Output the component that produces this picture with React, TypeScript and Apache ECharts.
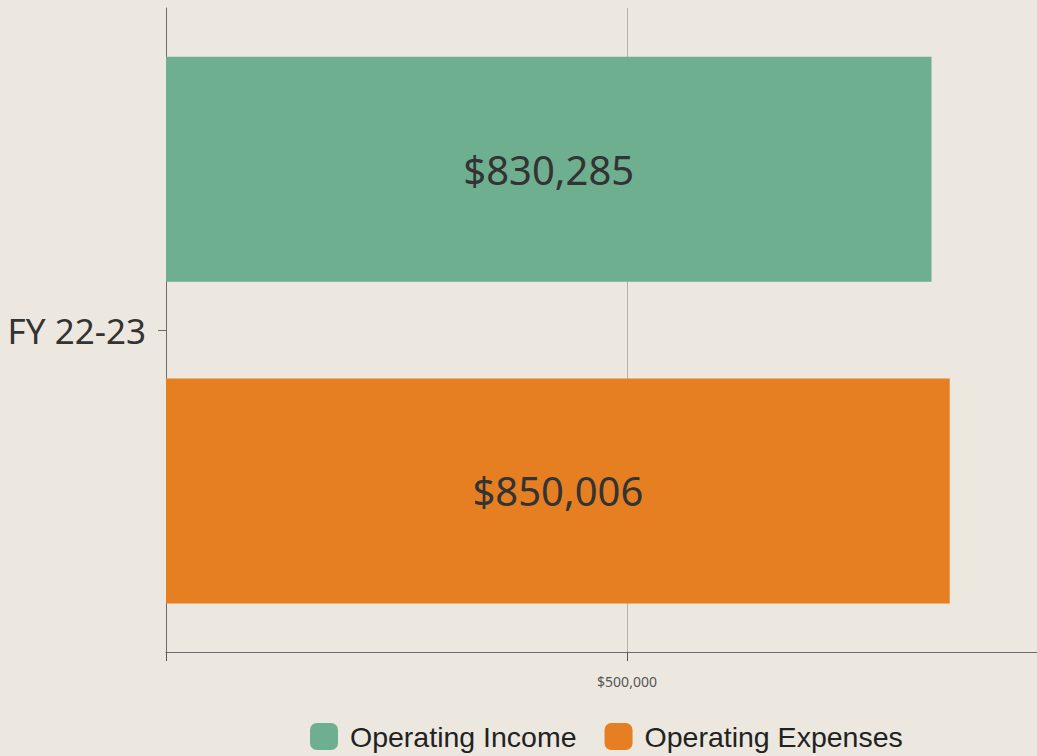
import React, { useEffect, useRef } from "react";
import * as echarts from "echarts";

const categories = ["FY 22-23"];
const seriesNames = ["Operating Income", "Operating Expenses"];
const incomeValues = [830285];
const expenseValues = [850006];
const tickValues = [500000];
const axisMax = 944685;

const fmt = (v: number) => "$" + Math.round(v).toLocaleString("en-US");

export default function App() {
  const ref = useRef<HTMLDivElement>(null);
  useEffect(() => {
    if (!ref.current) return;
    const chart = echarts.init(ref.current, undefined, { renderer: "svg" });
    const label = {
      show: true,
      position: "inside",
      color: "#333333",
      fontSize: 40,
      fontFamily: "Noto Sans",
      formatter: (p: any) => fmt(p.value),
    };
    chart.setOption({
      animation: false,
      backgroundColor: "#ECE8DF",
      grid: { left: 166, right: 0, top: 8, bottom: 104, containLabel: false },
      legend: {
        top: 717,
        left: 305,
        itemWidth: 28,
        itemHeight: 27,
        itemGap: 28,
        icon: "roundRect",
        textStyle: {
          fontFamily: "Liberation Sans",
          fontSize: 28.5,
          color: "#222222",
          padding: [0, 0, 0, 7],
        },
        data: seriesNames,
      },
      xAxis: {
        type: "value",
        min: 0,
        max: axisMax,
        interval: 500000,
        axisLine: { show: true, lineStyle: { color: "#6b6b6b", width: 1 } },
        axisTick: { show: true, length: 9, lineStyle: { color: "#555555", width: 1 } },
        axisLabel: {
          customValues: tickValues,
          formatter: (v: number) => fmt(v),
          fontSize: 14,
          color: "#555555",
          fontFamily: "Noto Sans",
          margin: 22,
        },
        splitLine: { show: true, lineStyle: { color: "#b5b2ab", width: 1 } },
      },
      yAxis: {
        type: "category",
        data: categories,
        axisLine: { show: true, lineStyle: { color: "#6b6b6b", width: 1 } },
        axisTick: { show: true, length: 8, alignWithLabel: true, lineStyle: { color: "#6b6b6b" } },
        axisLabel: { fontSize: 35, color: "#333333", fontFamily: "Noto Sans", margin: 20 },
        inverse: true,
      },
      series: [
        {
          name: seriesNames[0],
          type: "bar",
          data: incomeValues,
          barWidth: 225,
          barGap: "43%",
          itemStyle: { color: "#6DAF8F" },
          label,
        },
        {
          name: seriesNames[1],
          type: "bar",
          data: expenseValues,
          barWidth: 225,
          barGap: "43%",
          itemStyle: { color: "#E67F22" },
          label,
        },
      ],
    });
    return () => chart.dispose();
  }, []);
  return (
    <div
      ref={ref}
      style={{ position: "fixed", left: 0, top: 0, width: 1037, height: 756 }}
    />
  );
}
